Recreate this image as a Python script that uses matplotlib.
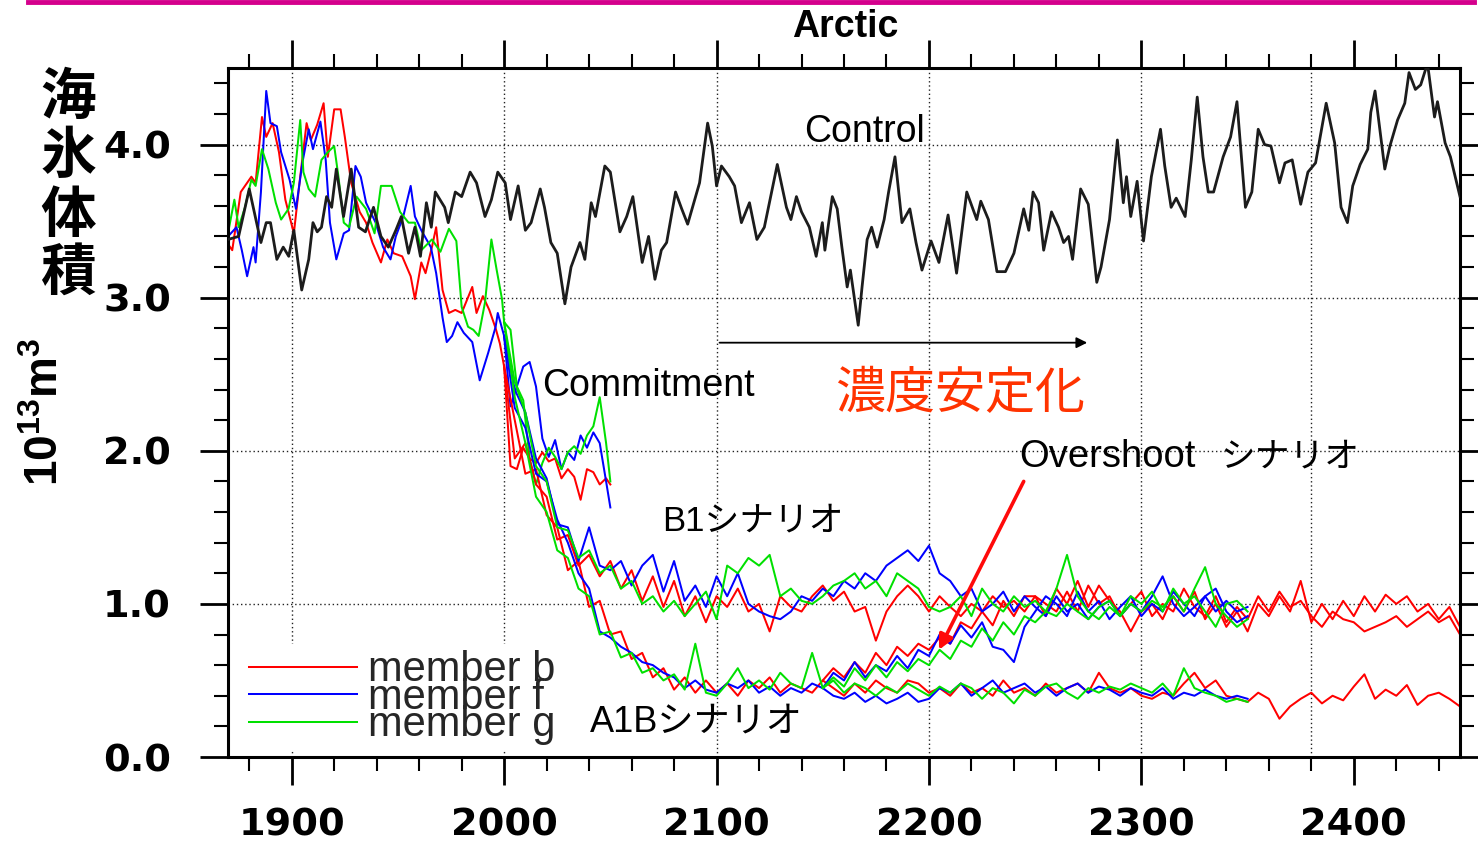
import numpy as np
import matplotlib
matplotlib.use("Agg")
import matplotlib.pyplot as plt
from matplotlib.lines import Line2D
from matplotlib.ticker import FixedLocator, MultipleLocator

plt.rcParams["mathtext.fontset"] = "custom"
plt.rcParams["mathtext.bf"] = "Liberation Sans:bold"
plt.rcParams["mathtext.rm"] = "Liberation Sans"
plt.rcParams["mathtext.it"] = "Liberation Sans:italic"

# ---------------- data: Arctic sea-ice volume (10^13 m^3) ----------------
# Control run
ctrl_years = [
    1870, 1875, 1880, 1885.5, 1888, 1890, 1893, 1896, 1898.6, 1901, 1904.7, 1908,
    1910, 1912, 1914, 1916.4, 1918.8, 1921, 1924.4, 1928, 1931.5, 1934.7, 1938.5,
    1942, 1945.5, 1949, 1951.6, 1955, 1958, 1960.6, 1963.4, 1965.7, 1967.6, 1972,
    1973.7, 1977, 1980, 1984, 1987, 1991, 1994, 1997, 2000.5, 2003, 2006.6, 2010,
    2012.7, 2017, 2019, 2022, 2025, 2028.6, 2031.5, 2035.7, 2038, 2041, 2043,
    2047.4, 2050, 2054.5, 2057.7, 2060.6, 2065, 2068, 2071, 2074, 2076.5, 2080.7,
    2083.6, 2086.4, 2092, 2095.8, 2098, 2100, 2102.3, 2106, 2108.5, 2111.7,
    2115.5, 2119, 2122.5, 2128.6, 2132.9, 2135, 2137.6, 2140, 2143.7, 2146.9,
    2149.8, 2151, 2154.5, 2156.8, 2159, 2161.5, 2163, 2166.7, 2168.5, 2170.9,
    2173, 2175.6, 2178.9, 2181, 2184, 2187.3, 2191, 2193.9, 2196.7, 2201,
    2204.7, 2209, 2213, 2217.8, 2222.5, 2224.4, 2228, 2232, 2236, 2240, 2244.6,
    2247, 2249, 2251.6, 2254, 2257.7, 2261, 2263.4, 2265.7, 2267.6, 2271.4,
    2275, 2279, 2281, 2285, 2288.7, 2291.5, 2293, 2295, 2298, 2301, 2304.7,
    2309, 2311, 2314, 2316.4, 2320.6, 2323.5, 2326.3, 2329, 2331.5, 2334,
    2338.5, 2342, 2345, 2349, 2352, 2355, 2358, 2361, 2365, 2367.6, 2371, 2375,
    2378.4, 2382, 2387, 2391, 2394, 2397, 2399.5, 2403, 2406.6, 2408, 2410,
    2414.6, 2417, 2420.6, 2424, 2426, 2429, 2431.5, 2434.7, 2438, 2439.4, 2443,
    2445.5, 2450,
]
ctrl_vals = [
    3.38, 3.40, 3.71, 3.36, 3.49, 3.49, 3.25, 3.33, 3.27, 3.44, 3.05, 3.25,
    3.49, 3.43, 3.46, 3.66, 3.59, 3.84, 3.53, 3.84, 3.46, 3.43, 3.59,
    3.40, 3.33, 3.44, 3.53, 3.29, 3.46, 3.27, 3.62, 3.46, 3.69, 3.59,
    3.49, 3.69, 3.66, 3.82, 3.75, 3.53, 3.64, 3.82, 3.75, 3.51, 3.73, 3.44,
    3.49, 3.71, 3.59, 3.36, 3.29, 2.96, 3.20, 3.36, 3.25, 3.62, 3.53,
    3.86, 3.82, 3.43, 3.53, 3.66, 3.23, 3.40, 3.12, 3.31, 3.36, 3.69,
    3.58, 3.48, 3.75, 4.14, 3.99, 3.73, 3.86, 3.79, 3.73, 3.49,
    3.62, 3.38, 3.46, 3.87, 3.59, 3.51, 3.66, 3.56, 3.46, 3.27,
    3.49, 3.31, 3.66, 3.58, 3.33, 3.07, 3.18, 2.82, 3.07, 3.38,
    3.46, 3.33, 3.51, 3.69, 3.92, 3.49, 3.58, 3.36, 3.18, 3.37,
    3.23, 3.54, 3.16, 3.69, 3.51, 3.63, 3.51, 3.17, 3.17, 3.29, 3.58,
    3.44, 3.69, 3.62, 3.31, 3.56, 3.46, 3.36, 3.40, 3.25, 3.71,
    3.61, 3.10, 3.20, 3.51, 4.03, 3.62, 3.79, 3.53, 3.76, 3.37, 3.79,
    4.10, 3.86, 3.59, 3.65, 3.53, 3.90, 4.31, 3.92, 3.69, 3.69,
    3.92, 4.05, 4.28, 3.59, 3.69, 4.10, 4.00, 3.99, 3.75, 3.88, 3.90, 3.61,
    3.82, 3.88, 4.27, 4.01, 3.59, 3.49, 3.73, 3.87, 3.97, 4.21, 4.35,
    3.84, 3.99, 4.16, 4.27, 4.47, 4.36, 4.39, 4.53, 4.18, 4.28, 4.01,
    3.92, 3.66,
]

# 20th-century runs, three ensemble members
hist_b_years = [1870, 1872, 1876, 1881, 1883, 1886, 1888, 1891, 1894, 1897, 1901,
                1904, 1907, 1909, 1912, 1915, 1917, 1920, 1923, 1925, 1928, 1932,
                1935, 1938, 1942, 1945, 1948, 1952, 1956, 1958, 1961, 1963, 1966,
                1968, 1971, 1974, 1977, 1980, 1985, 1987, 1990, 1993, 1996, 1998,
                2000]
hist_b = [3.35, 3.31, 3.69, 3.79, 3.75, 4.18, 4.05, 4.14, 3.95, 3.64, 3.42,
          3.79, 4.14, 4.03, 4.13, 4.27, 3.92, 4.23, 4.23, 4.05, 3.75, 3.56,
          3.49, 3.36, 3.23, 3.38, 3.29, 3.27, 3.14, 2.99, 3.23, 3.16, 3.33,
          3.46, 3.05, 2.90, 2.92, 2.90, 3.07, 2.90, 3.01, 2.92, 2.80, 2.70,
          2.55]

hist_f_years = [1870, 1874, 1876.5, 1879, 1882, 1883, 1885.5, 1888, 1890, 1893,
                1895, 1899, 1902, 1905, 1908, 1910, 1913.5, 1916, 1918, 1921,
                1924.5, 1927, 1930, 1932.5, 1935, 1939.5, 1943, 1946.5, 1949,
                1952.5, 1956, 1958, 1961, 1965.5, 1968, 1971, 1973, 1975.5, 1978,
                1981, 1985, 1988.5, 1992.5, 1996, 1997, 2000]
hist_f = [3.40, 3.46, 3.31, 3.14, 3.33, 3.23, 3.69, 4.35, 4.14, 4.12,
          3.95, 3.77, 3.58, 3.88, 4.10, 3.97, 4.15, 3.90, 3.49, 3.25,
          3.42, 3.44, 3.86, 3.79, 3.62, 3.49, 3.33, 3.25, 3.40,
          3.53, 3.73, 3.53, 3.44, 3.33, 3.16, 2.87, 2.71, 2.75, 2.84,
          2.77, 2.71, 2.46, 2.64, 2.81, 2.90, 2.75]

hist_g_years = [1870, 1873, 1875, 1878, 1881, 1883, 1886, 1889, 1892.5, 1895,
                1898.5, 1901, 1904, 1905.5, 1908, 1911, 1914, 1917, 1920, 1922,
                1924.5, 1927, 1930.5, 1935, 1939, 1942, 1947, 1951, 1955, 1958,
                1961, 1966, 1970, 1974, 1977.5, 1980, 1983, 1985.5, 1988, 1991,
                1994, 1996.5, 1999, 2000]
hist_g = [3.42, 3.64, 3.46, 3.59, 3.77, 3.73, 3.97, 3.84, 3.62, 3.51,
          3.58, 3.75, 4.16, 3.82, 3.71, 3.66, 3.90, 3.95, 3.99, 3.79,
          3.49, 3.46, 3.66, 3.58, 3.42, 3.73, 3.73, 3.56, 3.49, 3.49,
          3.31, 3.38, 3.30, 3.45, 3.37, 2.94, 2.81, 2.79, 2.75, 2.97,
          3.38, 3.18, 2.99, 2.84]

# Commitment runs (concentrations held at year-2000 level)
commit_years = [2000, 2003, 2006, 2009, 2012, 2015, 2018, 2021, 2024, 2027,
                2030, 2033, 2036, 2039, 2042, 2045, 2048, 2050]
commit_b = [2.55, 1.90, 1.88, 2.02, 1.95, 1.92, 1.99, 1.93, 1.95, 1.82,
            1.88, 1.83, 1.68, 1.88, 1.86, 1.78, 1.82, 1.78]
commit_f = [2.75, 2.29, 2.42, 2.55, 2.58, 2.42, 2.08, 1.96, 2.07, 1.88,
            1.99, 1.94, 2.10, 2.02, 2.12, 2.05, 1.80, 1.63]
commit_g = [2.84, 2.79, 2.42, 2.33, 1.95, 1.78, 1.92, 2.02, 1.96, 1.88,
            1.99, 2.03, 1.98, 2.10, 2.16, 2.35, 2.05, 1.80]

# Scenario runs on a 5-year grid
scen_years_long = np.arange(2000, 2451, 5)    # member b, 2000-2450
scen_years = np.arange(2000, 2351, 5)         # members f, g, 2000-2350
over_years_long = np.arange(2150, 2451, 5)    # member b overshoot
over_years = np.arange(2150, 2351, 5)         # members f, g overshoot

b1_b = [
    2.55, 1.95, 2.05, 1.78, 1.70, 1.42, 1.45, 1.25, 1.32, 1.18,   # 2000-2045
    1.28, 1.10, 1.22, 1.02, 1.18, 0.98, 1.15, 0.92, 1.05, 0.88,   # 2050-2095
    1.05, 0.98, 1.10, 0.95, 1.00, 0.82, 1.05, 0.98, 0.95, 1.05,   # 2100-2145
    1.12, 1.02, 1.08, 0.95, 0.98, 0.76, 0.95, 1.05, 1.12, 1.05,   # 2150-2195
    0.95, 1.05, 0.98, 0.92, 1.00, 0.95, 1.05, 0.98, 1.02, 0.95,   # 2200-2245
    1.05, 0.92, 1.10, 1.00, 1.15, 0.98, 1.12, 1.02, 0.95, 0.82,   # 2250-2295
    0.95, 1.00, 0.90, 1.05, 0.95, 1.08, 0.90, 1.00, 0.85, 0.95,   # 2300-2345
    0.82, 1.00, 0.92, 1.05, 0.95, 1.15, 0.88, 1.00, 0.90, 1.02,   # 2350-2395
    0.92, 1.05, 0.95, 1.06, 1.00, 1.05, 0.95, 1.00, 0.90, 0.98,   # 2400-2445
    0.85,                                                         # 2450
]
a1b_b = [
    2.55, 2.20, 1.85, 1.88, 1.58, 1.50, 1.22, 1.28, 0.98, 1.02,
    0.80, 0.82, 0.64, 0.68, 0.52, 0.58, 0.44, 0.52, 0.42, 0.50,
    0.42, 0.48, 0.40, 0.50, 0.45, 0.52, 0.42, 0.48, 0.45, 0.42,
    0.50, 0.45, 0.40, 0.48, 0.42, 0.50, 0.45, 0.42, 0.50, 0.48,
    0.42, 0.45, 0.40, 0.48, 0.42, 0.45, 0.40, 0.50, 0.42, 0.45,
    0.40, 0.48, 0.42, 0.45, 0.48, 0.42, 0.55, 0.45, 0.42, 0.45,
    0.40, 0.38, 0.42, 0.40, 0.48, 0.55, 0.45, 0.50, 0.40, 0.38,
    0.36, 0.42, 0.38, 0.25, 0.33, 0.38, 0.42, 0.35, 0.40, 0.37,
    0.46, 0.54, 0.38, 0.44, 0.40, 0.47, 0.34, 0.40, 0.42, 0.38,
    0.33,
]
over_b = [
    0.50, 0.58, 0.52, 0.62, 0.55, 0.68, 0.60, 0.72, 0.66, 0.74,   # 2150-2195
    0.70, 0.78, 0.74, 0.88, 0.84, 0.95, 0.86, 1.02, 0.92, 1.05,   # 2200-2245
    1.05, 1.00, 0.95, 1.08, 0.95, 1.12, 1.00, 1.05, 0.92, 1.00,   # 2250-2295
    1.08, 0.92, 1.00, 0.95, 1.10, 0.98, 0.92, 1.05, 0.88, 0.98,   # 2300-2345
    0.90, 1.05, 0.95, 1.08, 0.98, 1.02, 0.92, 0.85, 0.95, 0.90,   # 2350-2395
    0.88, 0.82, 0.85, 0.88, 0.92, 0.85, 0.90, 0.95, 0.88, 0.92,   # 2400-2445
    0.80,                                                         # 2450
]

b1_f = [
    2.75, 2.40, 2.25, 1.95, 1.82, 1.52, 1.50, 1.28, 1.50, 1.25,
    1.22, 1.28, 1.12, 1.25, 1.32, 1.08, 1.28, 1.02, 1.12, 0.98,
    1.18, 1.05, 1.20, 1.00, 0.95, 0.92, 0.90, 0.95, 1.05, 1.02,
    1.10, 1.05, 1.15, 1.10, 1.20, 1.15, 1.25, 1.30, 1.35, 1.28,
    1.38, 1.20, 1.15, 1.05, 1.10, 0.95, 1.00, 1.08, 0.95, 1.05,
    0.98, 0.92, 1.05, 0.95, 1.00, 0.90, 0.98, 1.02, 0.92, 1.00,
    0.95, 1.05, 1.18, 1.00, 0.92, 0.98, 1.05, 0.95, 1.02, 0.95,
    0.98,
]
a1b_f = [
    2.75, 2.28, 2.15, 1.85, 1.80, 1.55, 1.40, 1.20, 1.10, 0.82,
    0.78, 0.72, 0.68, 0.62, 0.60, 0.55, 0.52, 0.45, 0.50, 0.44,
    0.42, 0.48, 0.45, 0.50, 0.42, 0.46, 0.40, 0.45, 0.42, 0.48,
    0.45, 0.40, 0.38, 0.42, 0.36, 0.40, 0.35, 0.38, 0.42, 0.36,
    0.38, 0.45, 0.42, 0.48, 0.40, 0.45, 0.50, 0.42, 0.45, 0.48,
    0.42, 0.46, 0.40, 0.45, 0.48, 0.42, 0.46, 0.44, 0.40, 0.45,
    0.42, 0.40, 0.45, 0.38, 0.42, 0.40, 0.44, 0.40, 0.38, 0.40,
    0.38,
]
over_f = [
    0.45, 0.55, 0.50, 0.62, 0.52, 0.60, 0.56, 0.66, 0.58, 0.70,
    0.66, 0.80, 0.74, 0.86, 0.78, 0.88, 0.72, 0.70, 0.62, 0.85,
    0.95, 1.05, 1.00, 0.92, 1.08, 0.95, 1.02, 0.90, 0.98, 1.05,
    0.92, 1.00, 0.95, 1.08, 1.00, 0.92, 1.05, 1.10, 0.95, 0.88,
    0.92,
]

b1_g = [
    2.84, 2.45, 2.25, 1.90, 1.80, 1.50, 1.48, 1.30, 1.35, 1.20,
    1.25, 1.10, 1.15, 1.00, 1.05, 0.95, 1.02, 0.92, 1.00, 1.08,
    0.90, 1.25, 1.20, 1.30, 1.25, 1.32, 1.05, 1.10, 1.02, 1.00,
    1.05, 1.12, 1.15, 1.20, 1.10, 1.15, 1.05, 1.20, 1.15, 1.10,
    0.98, 0.95, 0.98, 1.05, 0.92, 1.10, 1.00, 0.95, 1.05, 0.98,
    1.02, 0.95, 1.10, 1.32, 1.05, 0.95, 0.90, 0.98, 0.92, 1.00,
    0.95, 1.02, 0.98, 1.05, 0.95, 1.10, 1.24, 1.00, 0.92, 0.85,
    0.90,
]
a1b_g = [
    2.84, 2.35, 2.05, 1.70, 1.60, 1.35, 1.30, 1.10, 1.05, 0.80,
    0.82, 0.65, 0.68, 0.55, 0.58, 0.50, 0.54, 0.44, 0.74, 0.42,
    0.40, 0.48, 0.58, 0.45, 0.50, 0.44, 0.55, 0.48, 0.45, 0.68,
    0.45, 0.50, 0.42, 0.48, 0.45, 0.40, 0.46, 0.42, 0.48, 0.44,
    0.40, 0.46, 0.42, 0.48, 0.45, 0.38, 0.45, 0.42, 0.35, 0.44,
    0.40, 0.46, 0.48, 0.42, 0.38, 0.45, 0.42, 0.46, 0.44, 0.48,
    0.45, 0.42, 0.48, 0.40, 0.58, 0.45, 0.42, 0.40, 0.36, 0.38,
    0.36,
]
over_g = [
    0.45, 0.52, 0.46, 0.58, 0.50, 0.60, 0.52, 0.62, 0.56, 0.64,
    0.60, 0.70, 0.64, 0.76, 0.72, 0.84, 0.76, 0.88, 0.80, 0.92,
    0.88, 0.95, 0.92, 1.00, 0.95, 0.90, 0.98, 1.02, 0.92, 1.05,
    1.00, 1.08, 0.95, 1.10, 1.00, 1.05, 0.95, 0.85, 1.00, 1.02,
    0.95,
]

member_labels = ["member b", "member f", "member g"]
member_colors = ["#ff0000", "#0000ff", "#00e000"]

x_major = [1900, 2000, 2100, 2200, 2300, 2400]
x_grid = [1900, 2000, 2100, 2200, 2300, 2380]
y_major = [0.0, 1.0, 2.0, 3.0, 4.0]
y_labels = ["0.0", "1.0", "2.0", "3.0", "4.0"]

# ---------------- figure ----------------
W, H = 1478, 841
fig = plt.figure(figsize=(W / 100, H / 100), dpi=100)
fig.patch.set_facecolor("white")
ax = fig.add_axes([228 / W, 1 - 757 / H, (1460 - 228) / W, (757 - 68) / H])
ax.set_xlim(1870, 2450)
ax.set_ylim(0, 4.5)

for s in ax.spines.values():
    s.set_linewidth(2.2)

ax.xaxis.set_major_locator(FixedLocator(x_major))
ax.xaxis.set_minor_locator(MultipleLocator(20))
ax.yaxis.set_major_locator(FixedLocator(y_major))
ax.yaxis.set_minor_locator(MultipleLocator(0.2))
ax.set_yticklabels(y_labels)
ax.tick_params(which="major", direction="out", length=20, width=2.0,
               top=True, right=True, labeltop=False, labelright=False)
ax.tick_params(which="minor", direction="out", length=10, width=1.5,
               top=True, right=True)
ax.tick_params(axis="x", which="major", pad=16)
ax.tick_params(axis="y", which="major", pad=21)
for lab in ax.get_xticklabels() + ax.get_yticklabels():
    lab.set_fontfamily("DejaVu Sans")
    lab.set_fontweight("bold")
    lab.set_fontsize(27.5)

# dotted grid
for yv in y_major[1:]:
    ax.axhline(yv, color="#222222", lw=1.0, ls=(0, (1, 2)), zorder=0.5)
for xv in x_grid:
    ax.axvline(xv, color="#222222", lw=1.0, ls=(0, (1, 2)), zorder=0.5)

lw_m = 1.45
hist_sets = [(hist_b_years, hist_b), (hist_f_years, hist_f), (hist_g_years, hist_g)]
commit_sets = [commit_b, commit_f, commit_g]
scen_sets = [
    (scen_years_long, b1_b, a1b_b, over_years_long, over_b),
    (scen_years, b1_f, a1b_f, over_years, over_f),
    (scen_years, b1_g, a1b_g, over_years, over_g),
]
handles = []
for (hy, hv), col in zip(hist_sets, member_colors):
    ln, = ax.plot(hy, hv, color=col, lw=lw_m, zorder=2)
    handles.append(ln)
for cv, col in zip(commit_sets, member_colors):
    ax.plot(commit_years, cv, color=col, lw=lw_m, zorder=2)
for (sy, b1, a1b, oy, ov), col in zip(scen_sets, member_colors):
    ax.plot(sy, b1, color=col, lw=lw_m, zorder=2)
    ax.plot(sy, a1b, color=col, lw=lw_m, zorder=2)
    ax.plot(oy, ov, color=col, lw=lw_m, zorder=2)

ax.plot(ctrl_years, ctrl_vals, color="#1c1c1c", lw=2.0, zorder=3,
        solid_joinstyle="round")

# legend
leg = ax.legend(handles, member_labels, loc="lower left",
                bbox_to_anchor=(0.012, 0.008),
                prop={"family": "Liberation Sans", "size": 30},
                handlelength=2.6, handletextpad=0.25, labelspacing=-0.30,
                borderpad=0.15, borderaxespad=0.0, frameon=True,
                framealpha=1.0, facecolor="white", edgecolor="none",
                fancybox=False)
for t in leg.get_texts():
    t.set_color("#262626")
leg.set_zorder(4)

# annotations
lat = ["Liberation Sans", "Noto Sans CJK JP"]
ax.text(2141.3, 4.08, "Control", fontsize=27, family=lat, va="center", ha="left", zorder=5)
ax.text(2017.8, 2.42, "Commitment", fontsize=27, family=lat, va="center", ha="left", zorder=5)
ax.text(2155.9, 2.37, "濃度安定化", fontsize=36, family="Noto Sans CJK JP",
        color="#ff3300", va="center", ha="left", zorder=5)
ax.text(2242.3, 1.96, "Overshoot", fontsize=27.5, family=lat, va="center", ha="left", zorder=5)
ax.text(2337.0, 1.96, "シナリオ", fontsize=25, family="Noto Sans CJK JP",
        va="center", ha="left", zorder=5)
ax.text(2074.2, 1.54, "B1シナリオ", fontsize=25, family=lat, va="center", ha="left", zorder=5)
ax.text(2040.4, 0.23, "A1Bシナリオ", fontsize=26, family=lat, va="center", ha="left", zorder=5)

ax.annotate("", xy=(2274.5, 2.706), xytext=(2101.4, 2.706),
            arrowprops=dict(arrowstyle="-|>", color="black", lw=1.3,
                            mutation_scale=16, shrinkA=0, shrinkB=0), zorder=5)
ax.annotate("", xy=(2204.7, 0.70), xytext=(2244.6, 1.80),
            arrowprops=dict(arrowstyle="-|>", color="#ff0a0a", lw=2.6,
                            mutation_scale=22, shrinkA=0, shrinkB=0), zorder=5)

# title, axis labels, header rule
fig.text(845 / W, 1 - 27 / H, "Arctic", ha="center", va="center",
         fontsize=27, fontweight="bold", family="Liberation Sans")
for ch, yc in zip("海氷体積", [98, 157, 216, 274]):
    fig.text(68 / W, 1 - yc / H, ch, ha="center", va="center", fontsize=40,
             fontweight="bold", family="Noto Sans CJK JP")
fig.text(45 / W, 1 - 412 / H, r"$\mathbf{10^{13}m^{3}}$", rotation=90,
         ha="center", va="center", fontsize=33)
fig.add_artist(Line2D([28 / W, 1474 / W], [1 - 2 / H, 1 - 2 / H],
                      color="#d4008c", lw=3.5, transform=fig.transFigure))

fig.savefig("out.png", dpi=100, facecolor="white")
